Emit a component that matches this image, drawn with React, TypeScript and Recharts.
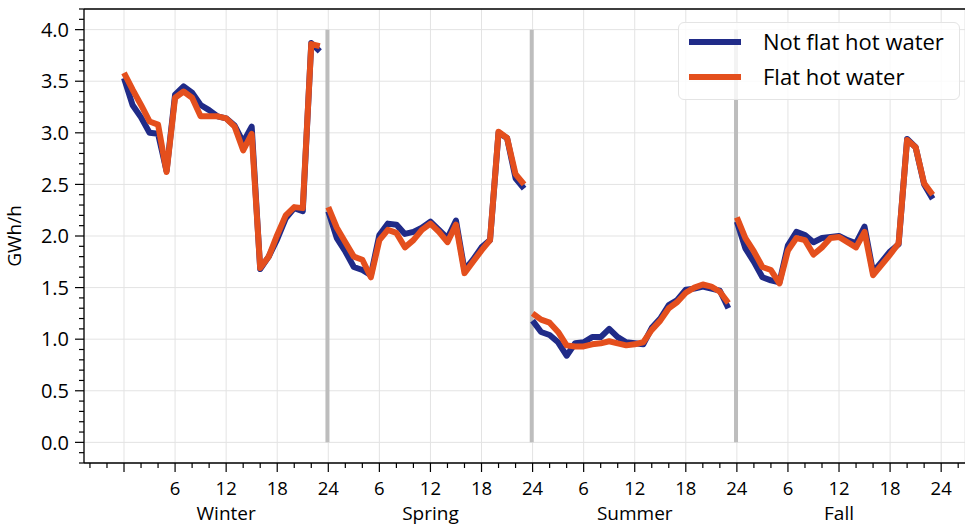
import { CartesianGrid, Legend, Line, LineChart, ReferenceLine, XAxis, YAxis } from 'recharts';

const seasons = ['Winter', 'Spring', 'Summer', 'Fall'];

// GWh/h per hour, 24 values per season (winter, spring, summer, fall)
const notFlatHotWater = [
  3.53, 3.27, 3.15, 3.0, 2.99, 2.63, 3.37, 3.45, 3.39, 3.27, 3.22, 3.16, 3.14, 3.07, 2.91, 3.06, 1.68, 1.8, 1.97, 2.17, 2.27, 2.24, 3.87, 3.79,
  2.24, 1.98, 1.85, 1.7, 1.67, 1.62, 2.01, 2.12, 2.11, 2.02, 2.04, 2.08, 2.14, 2.06, 1.98, 2.15, 1.67, 1.77, 1.89, 1.96, 3.0, 2.95, 2.56, 2.46,
  1.18, 1.07, 1.04, 0.97, 0.84, 0.96, 0.97, 1.02, 1.02, 1.1, 1.02, 0.97, 0.96, 0.95, 1.11, 1.2, 1.33, 1.38, 1.48, 1.49, 1.51, 1.49, 1.47, 1.3,
  2.14, 1.88, 1.75, 1.6, 1.57, 1.55, 1.91, 2.04, 2.01, 1.94, 1.98, 1.99, 2.0, 1.96, 1.93, 2.09, 1.65, 1.75, 1.85, 1.92, 2.94, 2.86, 2.5, 2.36,
];

const flatHotWater = [
  3.58, 3.42, 3.27, 3.11, 3.08, 2.62, 3.34, 3.4, 3.34, 3.16, 3.16, 3.16, 3.14, 3.06, 2.83, 2.99, 1.69, 1.8, 2.01, 2.2, 2.28, 2.27, 3.86, 3.84,
  2.28, 2.08, 1.94, 1.8, 1.77, 1.6, 1.96, 2.06, 2.03, 1.89, 1.96, 2.06, 2.12, 2.04, 1.94, 2.11, 1.64, 1.75, 1.86, 1.96, 3.01, 2.95, 2.6, 2.5,
  1.25, 1.19, 1.16, 1.07, 0.94, 0.93, 0.93, 0.95, 0.96, 0.98, 0.96, 0.94, 0.95, 0.97, 1.09, 1.18, 1.3, 1.36, 1.45, 1.5, 1.53, 1.51, 1.46, 1.35,
  2.18, 1.98, 1.85, 1.7, 1.67, 1.54, 1.86, 1.98, 1.96, 1.82, 1.89, 1.98, 1.99, 1.94, 1.89, 2.04, 1.62, 1.72, 1.82, 1.93, 2.93, 2.86, 2.51, 2.4,
];

const hourTicks = [0, 6, 12, 18, 24, 30, 36, 42, 48, 54, 60, 66, 72, 78, 84, 90, 96];
const hourLabels = ['', '6', '12', '18', '24', '6', '12', '18', '24', '6', '12', '18', '24', '6', '12', '18', '24'];
const valueTicks = [0, 0.5, 1, 1.5, 2, 2.5, 3, 3.5, 4];
const seasonBreaks = [23.9, 47.9, 71.9];

const xDomain: [number, number] = [-4.7, 98.8];
const yDomain: [number, number] = [-0.2, 4.2];

const BLUE = '#202b88';
const ORANGE = '#e44f1d';

const legendItems = [
  { name: 'Not flat hot water', color: BLUE },
  { name: 'Flat hot water', color: ORANGE },
];

// minor ticks every 2 h on x, every 0.1 on y
const xMinor: number[] = [];
for (let h = -4; h <= 98; h += 2) xMinor.push(h);
const yMinor: number[] = [];
for (let i = -2; i <= 42; i++) yMinor.push(i / 10);

const seasonData = seasons.map((_, s) =>
  notFlatHotWater.slice(s * 24, s * 24 + 24).map((v, i) => ({
    hour: s * 24 + i,
    notFlat: v,
    flat: flatHotWater[s * 24 + i],
  })),
);

function XTick(props: any) {
  const { x, y, payload } = props;
  const v = payload.value as number;
  const idx = hourTicks.indexOf(v);
  const major = idx >= 0;
  const season = v > 0 && v % 24 === 12 ? seasons[Math.floor(v / 24)] : null;
  return (
    <g>
      <line x1={x} y1={y} x2={x} y2={y + (major ? 9 : 5)} stroke="#000" strokeWidth={1.2} />
      {major && (
        <text x={x} y={y + 32} textAnchor="middle" fontSize={18.5} fill="#000">
          {hourLabels[idx]}
        </text>
      )}
      {season && (
        <text x={x} y={y + 57} textAnchor="middle" fontSize={19} fill="#000">
          {season}
        </text>
      )}
    </g>
  );
}

function YTick(props: any) {
  const { x, y, payload } = props;
  const v = payload.value as number;
  const major = valueTicks.some((t) => Math.abs(t - v) < 1e-6);
  return (
    <g>
      <line x1={x} y1={y} x2={x - (major ? 9 : 5)} y2={y} stroke="#000" strokeWidth={1.2} />
      {major && (
        <text x={x - 15} y={y} dy="0.36em" textAnchor="end" fontSize={20} fill="#000">
          {v.toFixed(1)}
        </text>
      )}
    </g>
  );
}

function LegendBox() {
  return (
    <div
      style={{
        boxSizing: 'border-box',
        width: 282,
        height: 78,
        border: '1px solid #e4e4e4',
        borderRadius: 6,
        background: 'rgba(255,255,255,0.82)',
        padding: '1px 0 0 10px',
      }}
    >
      {legendItems.map((item) => (
        <div key={item.name} style={{ display: 'flex', alignItems: 'center', height: 35 }}>
          <span style={{ display: 'inline-block', width: 52, height: 6, background: item.color }} />
          <span style={{ marginLeft: 22, fontSize: 22, color: '#000', lineHeight: '35px' }}>{item.name}</span>
        </div>
      ))}
    </div>
  );
}

export default function App() {
  return (
    <div style={{ position: 'absolute', left: 0, top: 0, fontFamily: '"Open Sans", sans-serif' }}>
      <LineChart width={965} height={527} margin={{ top: 9, right: 0, bottom: 0, left: 0 }}>
        <XAxis xAxisId="grid" type="number" dataKey="hour" domain={xDomain} ticks={hourTicks} allowDataOverflow hide />
        <YAxis yAxisId="grid" type="number" domain={yDomain} ticks={valueTicks} allowDataOverflow hide />
        <CartesianGrid xAxisId="grid" yAxisId="grid" stroke="#e3e3e3" strokeWidth={1} />
        <XAxis
          type="number"
          dataKey="hour"
          domain={xDomain}
          ticks={xMinor}
          interval={0}
          allowDataOverflow
          height={64}
          tickSize={0}
          tickMargin={0}
          tickLine={false}
          axisLine={{ stroke: '#000', strokeWidth: 1.3 }}
          tick={<XTick />}
        />
        <YAxis
          type="number"
          domain={yDomain}
          ticks={yMinor}
          interval={0}
          allowDataOverflow
          width={84}
          tickSize={0}
          tickMargin={0}
          tickLine={false}
          axisLine={{ stroke: '#000', strokeWidth: 1.3 }}
          tick={<YTick />}
          label={{
            value: 'GWh/h',
            content: ({ viewBox }: any) => {
              const cx = viewBox.x + 14;
              const cy = viewBox.y + viewBox.height / 2;
              return (
                <text x={cx} y={cy} transform={`rotate(-90, ${cx}, ${cy})`} textAnchor="middle" dy="0.35em" fontSize={19} fill="#000">
                  GWh/h
                </text>
              );
            },
          }}
        />
        <ReferenceLine y={yDomain[1]} stroke="#000" strokeWidth={1.3} />
        {seasonBreaks.map((b) => (
          <ReferenceLine
            key={b}
            segment={[
              { x: b, y: valueTicks[0] },
              { x: b, y: valueTicks[valueTicks.length - 1] },
            ]}
            stroke="#bdbdbd"
            strokeWidth={4}
          />
        ))}
        {seasonData.map((d, s) => (
          <Line
            key={`nf-${s}`}
            data={d}
            dataKey="notFlat"
            type="linear"
            stroke={BLUE}
            strokeWidth={6}
            strokeLinejoin="round"
            dot={false}
            isAnimationActive={false}
          />
        ))}
        {seasonData.map((d, s) => (
          <Line
            key={`f-${s}`}
            data={d}
            dataKey="flat"
            type="linear"
            stroke={ORANGE}
            strokeWidth={6}
            strokeLinejoin="round"
            dot={false}
            isAnimationActive={false}
          />
        ))}
        <Legend
          layout="horizontal"
          verticalAlign="middle"
          align="center"
          wrapperStyle={{ top: 22, left: 678, width: 282 }}
          content={() => <LegendBox />}
        />
      </LineChart>
    </div>
  );
}
